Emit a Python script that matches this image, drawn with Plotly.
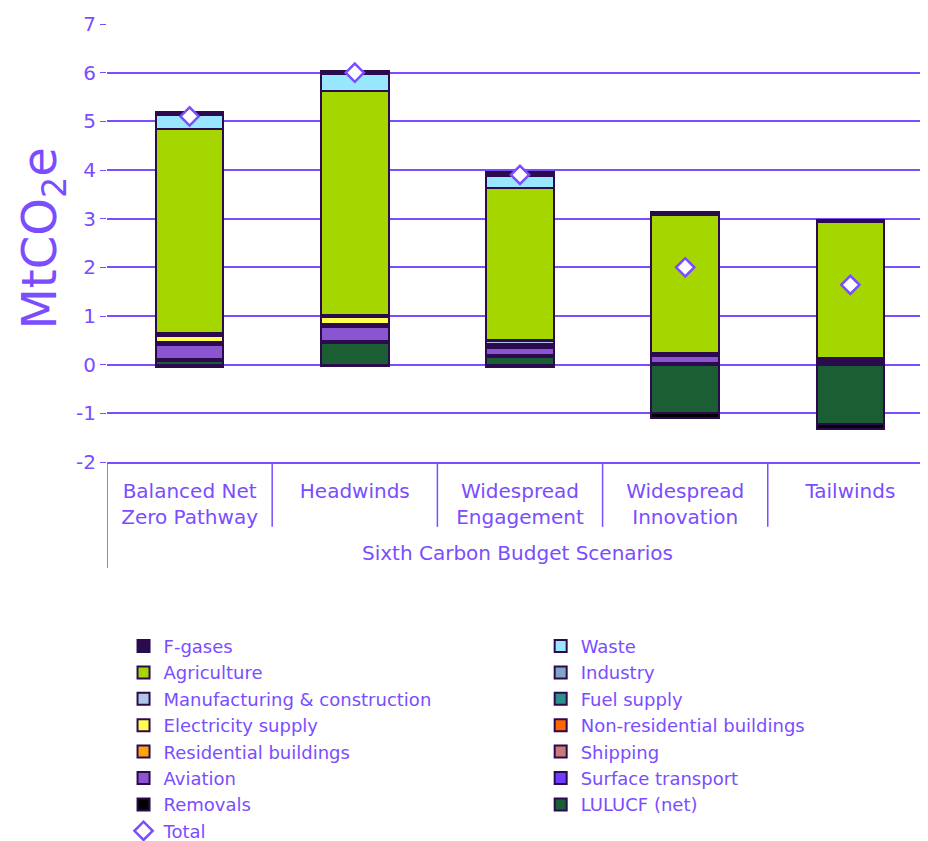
import plotly.graph_objects as go

scenarios = ["Balanced Net Zero Pathway", "Headwinds", "Widespread Engagement",
             "Widespread Innovation", "Tailwinds"]
scenario_labels = ["Balanced Net<br>Zero Pathway", "Headwinds", "Widespread<br>Engagement",
                   "Widespread<br>Innovation", "Tailwinds"]
y_ticks = [-2, -1, 0, 1, 2, 3, 4, 5, 6, 7]
y_tick_labels = ["-2", "-1", "0", "1", "2", "3", "4", "5", "6", "7"]

# sectors, bottom of stack first
lulucf = [0.08, 0.45, 0.16, -1.00, -1.22]
removals = [-0.05, -0.03, -0.05, -0.10, -0.10]
surface_transport = [0.03, 0.04, 0.04, 0.04, 0.03]
aviation = [0.30, 0.28, 0.15, 0.13, 0.03]
shipping = [0.02, 0.02, 0.02, 0.01, 0.01]
residential = [0.02, 0.02, 0.01, 0.01, 0.01]
non_residential = [0.02, 0.02, 0.01, 0.01, 0.01]
electricity = [0.12, 0.14, 0.02, 0.01, 0.01]
fuel_supply = [0.02, 0.02, 0.02, 0.01, 0.01]
manufacturing = [0.02, 0.02, 0.05, 0.01, 0.01]
industry = [0.02, 0.02, 0.03, 0.02, 0.01]
agriculture = [4.20, 4.60, 3.13, 2.83, 2.80]
waste = [0.28, 0.35, 0.24, 0.00, 0.00]
f_gases = [0.06, 0.05, 0.08, 0.06, 0.05]
total = [5.10, 6.00, 3.90, 2.00, 1.64]

TXT = "#7A4DFF"
EDGE = "#2B0A4D"
FONT = "DejaVu Sans"

# (name, values, colour, legend, rank)
series = [
    ("LULUCF (net)", lulucf, "#1C5E33", "legend2", 7),
    ("Removals", removals, "#000000", "legend", 7),
    ("Surface transport", surface_transport, "#6F3FFF", "legend2", 6),
    ("Aviation", aviation, "#8B55D2", "legend", 6),
    ("Shipping", shipping, "#C97B7B", "legend2", 5),
    ("Residential buildings", residential, "#FFA500", "legend", 5),
    ("Non-residential buildings", non_residential, "#FF6600", "legend2", 4),
    ("Electricity supply", electricity, "#FFFF4D", "legend", 4),
    ("Fuel supply", fuel_supply, "#2E8F8F", "legend2", 3),
    ("Manufacturing & construction", manufacturing, "#AEC6EA", "legend", 3),
    ("Industry", industry, "#7FA6C4", "legend2", 2),
    ("Agriculture", agriculture, "#A6D600", "legend", 2),
    ("Waste", waste, "#99E6FF", "legend2", 1),
    ("F-gases", f_gases, "#2B0A4D", "legend", 1),
]

fig = go.Figure()
for name, vals, col, leg, rank in series:
    fig.add_trace(go.Bar(
        x=scenarios, y=vals, name=name, width=0.41,
        marker=dict(color=col, line=dict(color=EDGE, width=2)),
        legend=leg, legendrank=rank,
    ))

fig.add_trace(go.Scatter(
    x=scenarios, y=total, name="Total", mode="markers",
    marker=dict(symbol="diamond", size=14, color="white",
                line=dict(color=TXT, width=2.5)),
    legend="legend", legendrank=8,
))

# category dividers below the axis
for i in range(5):
    fig.add_shape(type="line", xref="x", yref="paper", x0=i - 0.5, x1=i - 0.5,
                  y0=0, y1=-0.242 if i == 0 else -0.148,
                  line=dict(color=TXT, width=1.5))

fig.add_annotation(text="Sixth Carbon Budget Scenarios", xref="paper", yref="paper",
                   x=0.5, y=-0.208, showarrow=False, yanchor="middle",
                   font=dict(size=20, color=TXT, family=FONT))

# y axis title
fig.add_annotation(text="MtCO<sub>2</sub>e", xref="paper", yref="paper",
                   x=-0.078, y=0.51, textangle=-90, showarrow=False,
                   xanchor="center", yanchor="middle",
                   font=dict(size=48, color=TXT, family=FONT))

leg_common = dict(font=dict(size=18, color=TXT, family=FONT), bgcolor="rgba(0,0,0,0)",
                  xref="container", yref="container", yanchor="top", xanchor="left",
                  itemwidth=30, tracegroupgap=0)

fig.update_layout(
    width=928, height=841,
    margin=dict(l=99, r=8, t=16, b=387, autoexpand=False),
    paper_bgcolor="white", plot_bgcolor="white",
    barmode="relative", bargap=0,
    font=dict(family=FONT, color=TXT),
    showlegend=True,
    legend=dict(x=0.1245, y=0.263, **leg_common),
    legend2=dict(x=0.574, y=0.263, **leg_common),
    xaxis=dict(
        tickvals=scenarios, ticktext=scenario_labels,
        range=[-0.5, 4.47], showgrid=False,
        showline=True, linecolor=TXT, linewidth=2,
        ticks="", tickangle=0, tickfont=dict(size=20, color=TXT, family=FONT),
        ticklabelstandoff=10,
    ),
    yaxis=dict(
        range=[-2, 7], tickvals=y_ticks, ticktext=y_tick_labels,
        showgrid=True, gridcolor=TXT, gridwidth=2,
        zeroline=True, zerolinecolor=TXT, zerolinewidth=2,
        ticks="outside", ticklen=6, tickcolor=TXT, tickwidth=1,
        tickfont=dict(size=20, color=TXT, family=FONT),
    ),
)

fig.write_html("out.html")
